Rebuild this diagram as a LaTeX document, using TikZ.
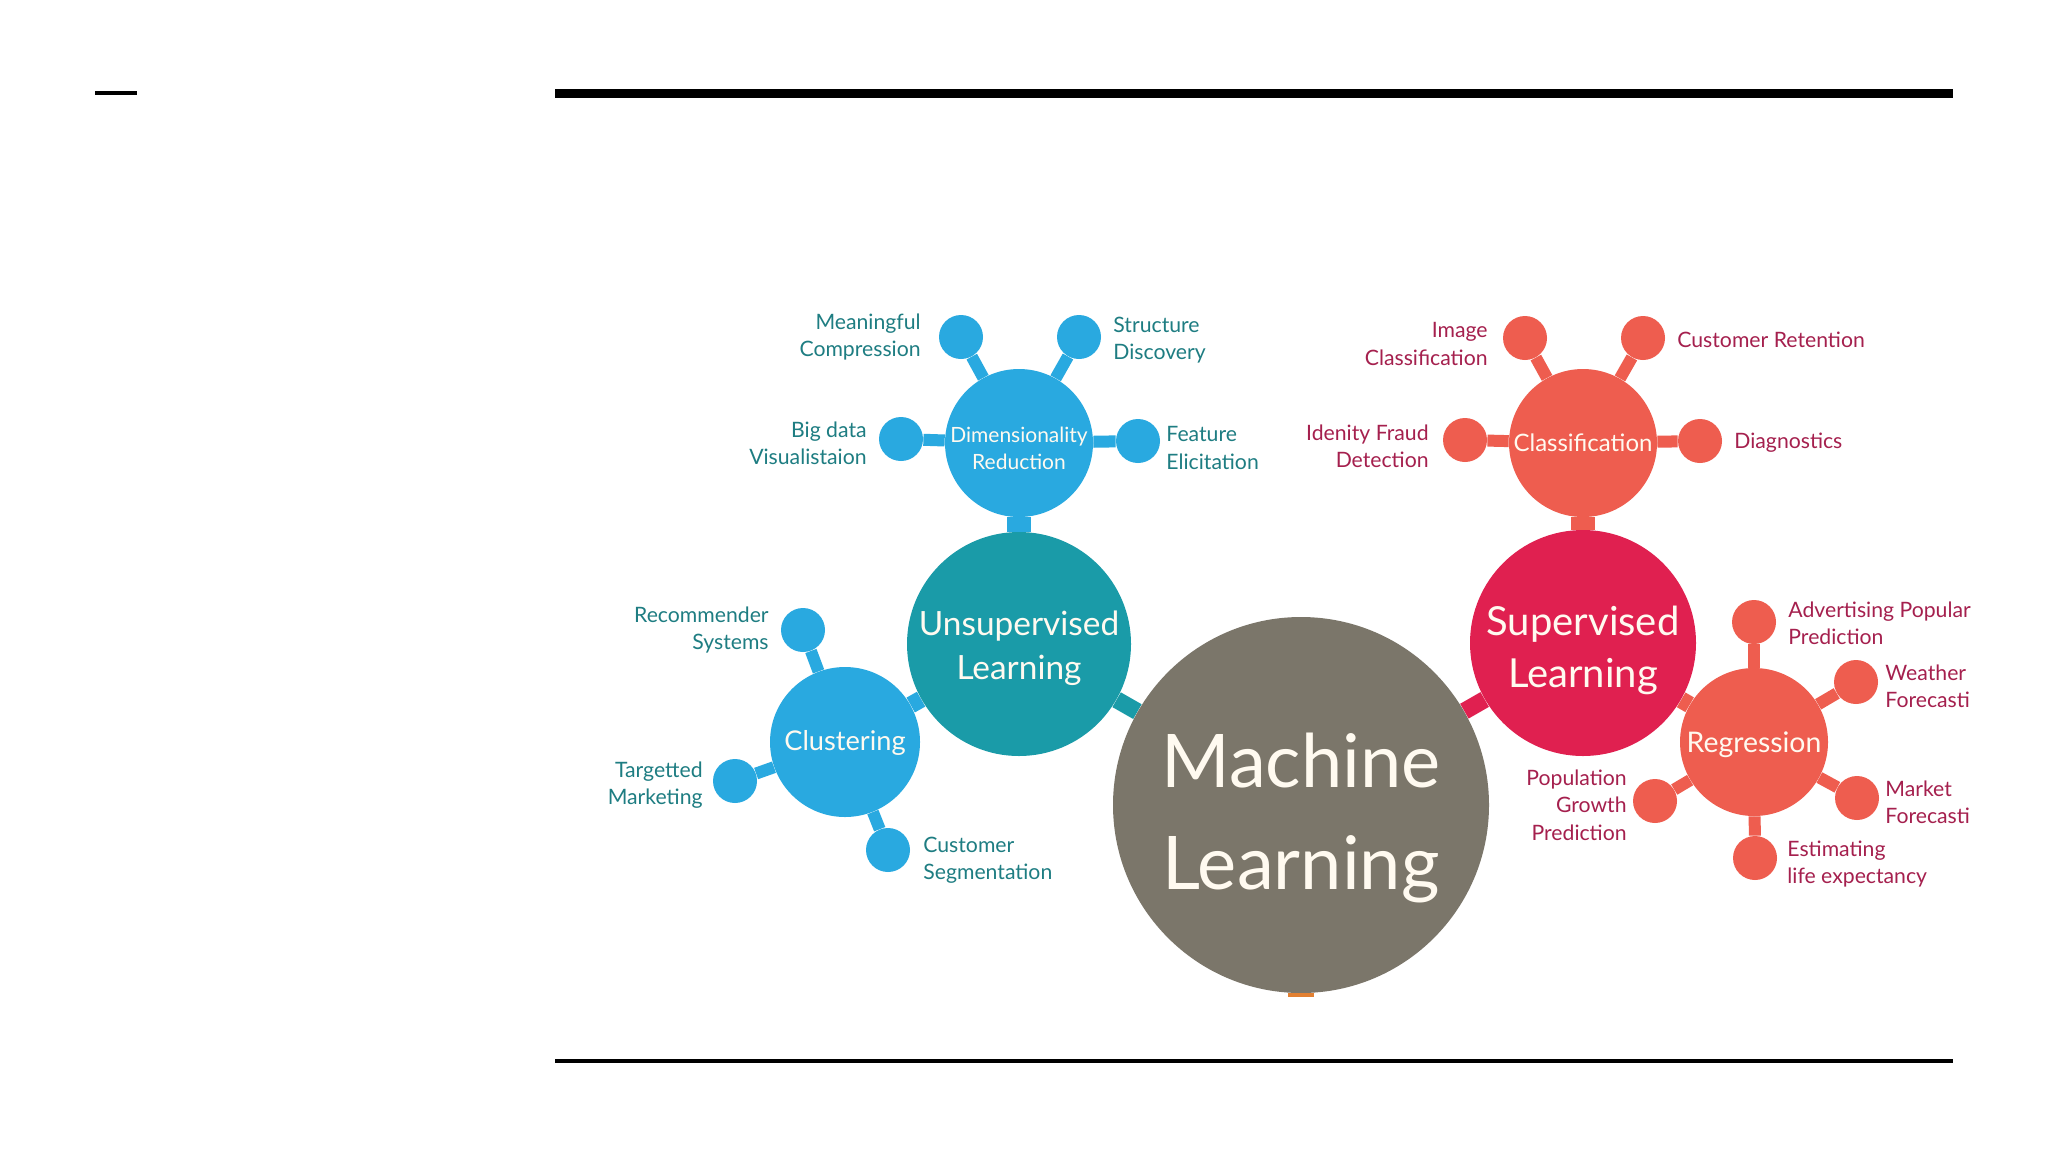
\documentclass[tikz,border=0pt]{standalone}
\usepackage{fontspec}
\setmainfont{Lato}
\usetikzlibrary{backgrounds}
\definecolor{mlgray}{RGB}{123,118,106}
\definecolor{unsupteal}{RGB}{26,155,168}
\definecolor{subblue}{RGB}{41,169,224}
\definecolor{supred}{RGB}{224,32,80}
\definecolor{subcoral}{RGB}{238,93,79}
\definecolor{lefttext}{RGB}{30,125,130}
\definecolor{righttext}{RGB}{165,32,78}
\definecolor{textwhite}{RGB}{255,250,240}
\definecolor{orangemark}{RGB}{226,128,50}
\tikzset{
  disc/.style={circle, inner sep=0pt, minimum size=#1, text=textwhite, align=center},
  disctext/.style={inner sep=0pt, text=textwhite, align=center},
  dot/.style={circle, inner sep=0pt, minimum size=44*0.5pt},
  bluedot/.style={dot, fill=subblue},
  coraldot/.style={dot, fill=subcoral},
  spoke/.style={line width=6pt},
  stem/.style={line width=12pt},
  link/.style={line width=8.5pt},
  lbl/.style={font=\fontsize{10.6}{13.7}\selectfont, inner sep=0pt},
  lblL/.style={lbl, text=lefttext},
  lblR/.style={lbl, text=righttext},
}
\begin{document}
\begin{tikzpicture}[x=0.5pt, y=-0.5pt]
\useasboundingbox (0,0) rectangle (2048,1152);
% rules
\coordinate (d1) at (95,93); \coordinate (d2) at (137,93);
\draw[line width=2pt] (d1) -- (d2);
\coordinate (t1) at (555,93); \coordinate (t2) at (1953,93);
\draw[line width=4.5pt] (t1) -- (t2);
\coordinate (b1) at (555,1061); \coordinate (b2) at (1953,1061);
\draw[line width=2pt] (b1) -- (b2);

% main discs
\node[disc=376*0.5pt, fill=mlgray] (ml) at (1301,805) {};
\node[disctext, font=\fontsize{37}{51}\selectfont] (mlt) at (1301,818) {Machine\\Learning};
\node[disc=224*0.5pt, fill=unsupteal] (un) at (1019,644) {};
\node[disctext, font=\fontsize{16.7}{22}\selectfont] (unt) at (1019,648) {Unsupervised\\Learning};
\node[disc=226*0.5pt, fill=supred] (su) at (1583,643) {};
\node[disctext, font=\fontsize{20}{26}\selectfont] (sut) at (1583,650) {Supervised\\Learning};
\node[disc=148*0.5pt, fill=subblue] (dr) at (1019,443) {};
\node[disctext, font=\fontsize{10.5}{13.5}\selectfont] (drt) at (1019,448) {Dimensionality\\Reduction};
\node[disc=148*0.5pt, fill=subcoral, font=\fontsize{12}{14}\selectfont] (cl) at (1583,443) {Classification};
\node[disc=150*0.5pt, fill=subblue] (cu) at (845,742) {};
\node[disctext, font=\fontsize{13.6}{14}\selectfont] (cut) at (845,743) {Clustering};
\node[disc=148*0.5pt, fill=subcoral] (re) at (1754,742) {};
\node[disctext, font=\fontsize{14.2}{14}\selectfont] (ret) at (1754,745) {Regression};
\fill[orangemark] (1288,993) rectangle (1314,997);

% satellites
\node[bluedot] (mc) at (961,337) {};
\node[bluedot] (sd) at (1079,337) {};
\node[bluedot] (bd) at (901,439) {};
\node[bluedot] (fe) at (1138,441) {};
\node[coraldot] (ic) at (1525,338) {};
\node[coraldot] (cr) at (1643,338) {};
\node[coraldot] (fd) at (1465,440) {};
\node[coraldot] (dg) at (1700,441) {};
\node[bluedot] (rs) at (803,630) {};
\node[bluedot] (tm) at (735,781) {};
\node[bluedot] (cs) at (888,850) {};
\node[coraldot] (ap) at (1754,622) {};
\node[coraldot] (wf) at (1856,682) {};
\node[coraldot] (mf) at (1857,798) {};
\node[coraldot] (le) at (1755,858) {};
\node[coraldot] (pg) at (1655,801) {};

\begin{scope}[on background layer]
  \fill[white] (0,0) rectangle (2048,1152);
  \draw[spoke, subblue] (dr) -- (mc); \draw[spoke, subblue] (dr) -- (sd);
  \draw[spoke, subblue] (dr) -- (bd); \draw[spoke, subblue] (dr) -- (fe);
  \draw[spoke, subcoral] (cl) -- (ic); \draw[spoke, subcoral] (cl) -- (cr);
  \draw[spoke, subcoral] (cl) -- (fd); \draw[spoke, subcoral] (cl) -- (dg);
  \draw[spoke, subblue] (cu) -- (rs); \draw[spoke, subblue] (cu) -- (tm);
  \draw[spoke, subblue] (cu) -- (cs);
  \draw[spoke, subcoral] (re) -- (ap); \draw[spoke, subcoral] (re) -- (wf);
  \draw[spoke, subcoral] (re) -- (mf); \draw[spoke, subcoral] (re) -- (le);
  \draw[spoke, subcoral] (re) -- (pg);
  \draw[stem, subblue] (dr) -- (un);
  \draw[stem, subcoral] (cl) -- (su);
  \draw[link, subblue] (cu) -- (un);
  \draw[link, subcoral] (re) -- (su);
  \draw[link, unsupteal] (un) -- (ml);
  \draw[link, supred] (su) -- (ml);
\end{scope}

% labels
\node[lblL, anchor=east, align=right] (tmc) at (921,337) {Meaningful\\Compression};
\node[lblL, anchor=west, align=left] (tsd) at (1113,340) {Structure\\Discovery};
\node[lblL, anchor=east, align=right] (tbd) at (867,443) {Big data\\Visualistaion};
\node[lblL, anchor=west, align=left] (tfe) at (1166,448) {Feature\\Elicitation};
\node[lblR, anchor=east, align=right] (tic) at (1488,344) {Image\\Classification};
\node[lblR, anchor=west, align=left] (tcr) at (1677,340) {Customer Retention};
\node[lblR, anchor=east, align=right] (tfd) at (1429,446) {Idenity Fraud\\Detection};
\node[lblR, anchor=west, align=left] (tdg) at (1734,443) {Diagnostics};
\node[lblL, anchor=east, align=right] (trs) at (769,630) {Recommender\\Systems};
\node[lblL, anchor=east, align=right] (ttm) at (703,785) {Targetted\\Marketing};
\node[lblL, anchor=west, align=left] (tcs) at (923,860) {Customer\\Segmentation};
\node[lblR, anchor=west, align=left] (tap) at (1788,623) {Advertising Popular\\Prediction};
\node[lblR, anchor=west, align=left] (twf) at (1885,686) {Weather\\Forecasti};
\node[lblR, anchor=west, align=left] (tmf) at (1885,802) {Market\\Forecasti};
\node[lblR, anchor=west, align=left] (tle) at (1787,864) {Estimating\\life expectancy};
\node[lblR, anchor=east, align=right] (tpg) at (1627,805) {Population\\Growth\\Prediction};
\end{tikzpicture}
\end{document}
